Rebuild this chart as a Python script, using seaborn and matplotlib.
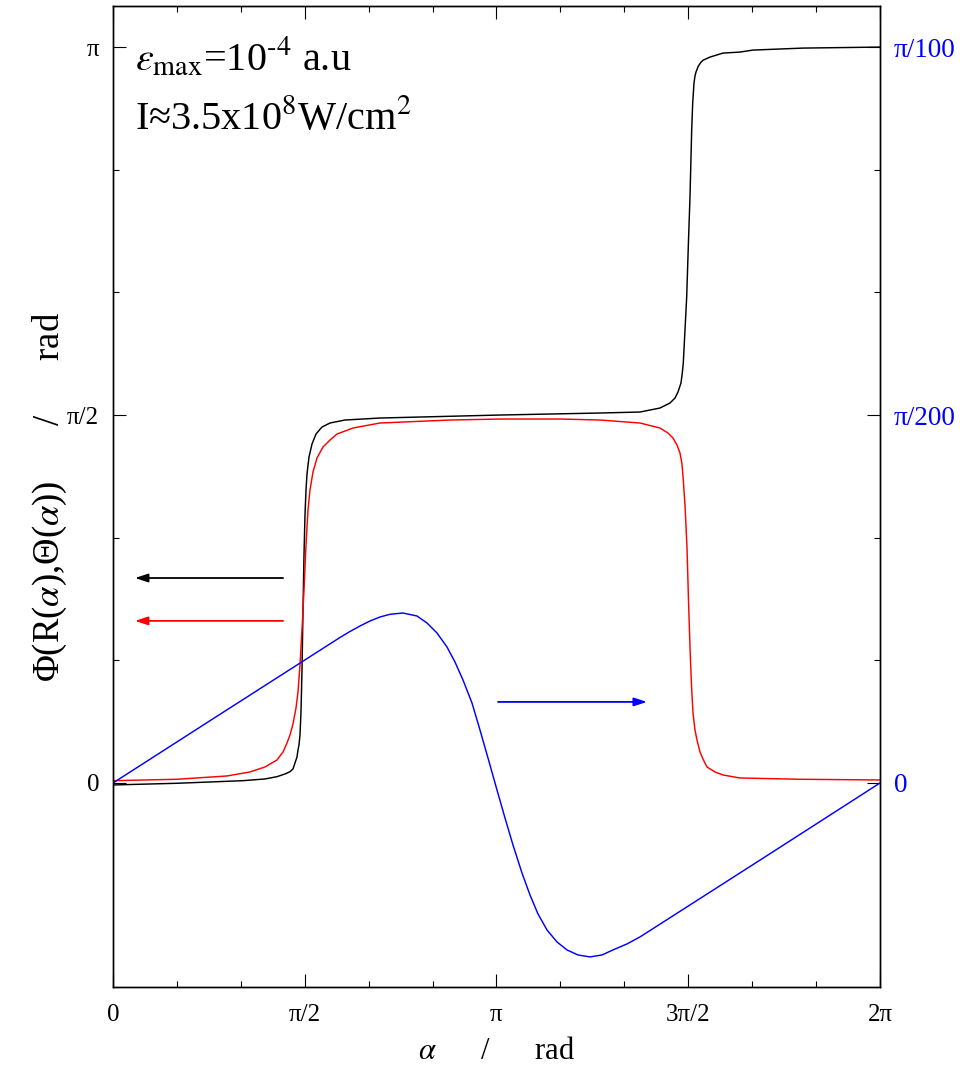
import numpy as np
import matplotlib
matplotlib.use("Agg")
import matplotlib.pyplot as plt
import seaborn as sns
from matplotlib.ticker import FixedLocator

PI = np.pi

# ---- black curve (left axis, rad) ----
alpha_black = [0.0000, 0.5243, 1.0649, 1.2452, 1.3435, 1.4090, 1.4500, 1.4746, 1.4910, 1.5074,
               1.5156, 1.5237, 1.5319, 1.5401, 1.5483, 1.5565, 1.5647, 1.5729, 1.5811, 1.5893,
               1.6057, 1.6302, 1.6630, 1.7121, 1.7777, 1.9005, 2.1872, 3.1702, 3.9894, 4.3171,
               4.4809, 4.5628, 4.6038, 4.6284, 4.6529, 4.6636, 4.6718, 4.6857, 4.6996, 4.7127,
               4.7267, 4.7406, 4.7488, 4.7594, 4.7676, 4.7758, 4.7947, 4.8151, 4.8356, 4.8905,
               4.9970, 5.1362, 5.2427, 5.6523, 6.2832]
val_black = [-0.0085, -0.0013, 0.0098, 0.0171, 0.0269, 0.0384, 0.0482, 0.0598, 0.0854, 0.1110,
             0.1409, 0.1622, 0.2049, 0.3031, 0.4823, 0.7385, 0.9732, 1.1440, 1.2507, 1.3190,
             1.3915, 1.4470, 1.4897, 1.5196, 1.5367, 1.5495, 1.5580, 1.5708, 1.5794, 1.5836,
             1.6007, 1.6220, 1.6434, 1.6690, 1.7074, 1.7501, 1.7928, 1.9336, 2.0745, 2.2879,
             2.5013, 2.7873, 2.9026, 2.9880, 3.0180, 3.0349, 3.0600, 3.0760, 3.0861, 3.0989,
             3.1160, 3.1203, 3.1288, 3.1373, 3.1416]

# ---- red curve (left axis, rad) ----
alpha_red = [0.0000, 0.5243, 0.9339, 1.1223, 1.2452, 1.3435, 1.3926, 1.4254, 1.4500, 1.4746,
             1.4992, 1.5156, 1.5319, 1.5483, 1.5647, 1.5811, 1.5974, 1.6138, 1.6384, 1.6712,
             1.7203, 1.7777, 1.8350, 1.9660, 2.1872, 2.7607, 3.1702, 3.6617, 3.9894, 4.3171,
             4.4809, 4.5464, 4.5874, 4.6202, 4.6447, 4.6611, 4.6718, 4.6857, 4.7021, 4.7144,
             4.7267, 4.7390, 4.7512, 4.7676, 4.7840, 4.8086, 4.8332, 4.8659, 4.9315, 4.9970,
             5.1362, 5.6277, 6.2832]
val_red = [0.0098, 0.0158, 0.0299, 0.0470, 0.0683, 0.0982, 0.1323, 0.1707, 0.2049, 0.2518,
           0.3201, 0.3884, 0.5037, 0.6531, 0.8238, 1.0159, 1.1653, 1.2507, 1.3275, 1.3873,
           1.4342, 1.4641, 1.4897, 1.5153, 1.5367, 1.5495, 1.5537, 1.5537, 1.5495, 1.5367,
           1.5153, 1.4940, 1.4726, 1.4427, 1.4086, 1.3617, 1.2934, 1.1866, 1.0074, 0.7811,
           0.5805, 0.4183, 0.2988, 0.2262, 0.1835, 0.1323, 0.1024, 0.0683, 0.0470, 0.0341,
           0.0213, 0.0158, 0.0128]

# ---- blue curve (right axis, rad) ----
alpha_blue = [0.0000, 0.9000, 1.8595, 1.9415, 2.0234, 2.1053, 2.1872, 2.2691, 2.3756, 2.4903,
              2.5722, 2.6541, 2.7361, 2.8016, 2.8671, 2.9409, 3.0064, 3.0719, 3.1457, 3.2112,
              3.2767, 3.3504, 3.4160, 3.4815, 3.5552, 3.6372, 3.7191, 3.8092, 3.9075, 4.0058,
              4.0959, 4.2106, 4.3171, 4.4809, 5.4000, 6.2832]
val_blue = [0.0, 0.003010, 0.006211, 0.006467, 0.006702, 0.006915, 0.007086, 0.007201, 0.007256, 0.007128,
            0.006830, 0.006403, 0.005805, 0.005165, 0.004397, 0.003415, 0.002262, 0.001067, -0.000299, -0.001494,
            -0.002646, -0.003842, -0.004781, -0.005591, -0.006275, -0.006787, -0.007128, -0.007342, -0.007427, -0.007342,
            -0.007128, -0.006872, -0.006573, -0.006027, -0.002960, 0.0]

# axis ticks
x_ticks = [0, PI / 2, PI, 3 * PI / 2, 2 * PI]
x_tick_labels = ["0", "π/2", "π", "3π/2", "2π"]
y_ticks = [0, PI / 2, PI]
y_tick_labels = ["0", "π/2", "π"]
y2_ticks = [0, PI / 200, PI / 100]
y2_tick_labels = ["0", "π/200", "π/100"]

# direction arrows: (tail x, head x, y)
arrow_black = (1.393, 0.180, 0.875)
arrow_red = (1.393, 0.180, 0.692)
arrow_blue = (3.154, 4.374, 0.00346)

sns.set_style("ticks")
plt.rcParams["font.family"] = ["Liberation Serif", "DejaVu Serif"]
plt.rcParams["mathtext.fontset"] = "stix"
for key in ("text.color", "axes.labelcolor", "xtick.color", "ytick.color"):
    plt.rcParams[key] = "black"

fig = plt.figure(figsize=(9.6, 10.67), dpi=100)
ax = fig.add_axes([0.1177, 0.07498, 0.79896, 0.91940])
ax2 = ax.twinx()

lw = 1.05
sns.lineplot(x=alpha_black, y=val_black, ax=ax, color="black", lw=lw, sort=False)
sns.lineplot(x=alpha_red, y=val_red, ax=ax, color="#ff0000", lw=lw, sort=False)
sns.lineplot(x=alpha_blue, y=val_blue, ax=ax2, color="#0000ff", lw=lw, sort=False)

ax.set_xlim(0, 2 * PI)
ax.set_ylim(-0.871, 3.317)
ax2.set_ylim(-0.00871, 0.03317)

ax.set_xticks(x_ticks, x_tick_labels)
ax.xaxis.set_minor_locator(FixedLocator([k * PI / 6 for k in range(13) if k % 3]))
ax.set_yticks(y_ticks, y_tick_labels)
ax.yaxis.set_minor_locator(FixedLocator([k * PI / 6 for k in range(7) if k % 3]))
ax2.set_yticks(y2_ticks, y2_tick_labels)
ax2.yaxis.set_minor_locator(FixedLocator([k * PI / 600 for k in range(7) if k % 3]))

for a in (ax, ax2):
    a.tick_params(which="both", direction="in", width=0.8, color="black")
    a.tick_params(which="major", length=9.4)
    a.tick_params(which="minor", length=4.3)
    for s in a.spines.values():
        s.set_linewidth(1.0)
        s.set_color("black")
ax.tick_params(axis="x", which="both", top=True, bottom=True, labelsize=18, pad=12)
ax.tick_params(axis="y", which="both", left=True, right=False, labelsize=18, pad=10)
ax2.tick_params(axis="y", which="both", right=True, left=False, labelsize=19.5,
                pad=10, labelcolor="#0000ff")

ax.set_xlabel(r"$\alpha$      /      rad", fontsize=22)
ax.xaxis.set_label_coords(0.5, -0.051)
ax.set_ylabel(r"Φ(R($\alpha$),Θ($\alpha$))      /      rad", fontsize=26.5)
ax.yaxis.set_label_coords(-0.058, 0.5)
ax2.set_ylabel("")

ax.text(0.0287, 0.9337, r"$\varepsilon_{\mathrm{max}}$=10$^{\text{-}\mathrm{4}}$ a.u",
        transform=ax.transAxes, fontsize=29, va="baseline", ha="left")
ax.text(0.0287, 0.8746, r"I≈3.5x10$^{\mathrm{8}}$W/cm$^{\mathrm{2}}$",
        transform=ax.transAxes, fontsize=29, va="baseline", ha="left")

arrow_style = "-|>,head_length=0.55,head_width=0.18"
for (x0, x1, y), col, axis in [(arrow_black, "black", ax), (arrow_red, "#ff0000", ax),
                                (arrow_blue, "#0000ff", ax2)]:
    axis.annotate("", xy=(x1, y), xytext=(x0, y),
                  arrowprops=dict(arrowstyle=arrow_style, color=col, lw=1.3,
                                  mutation_scale=14, shrinkA=0, shrinkB=0))

fig.savefig("out.png", dpi=100)
